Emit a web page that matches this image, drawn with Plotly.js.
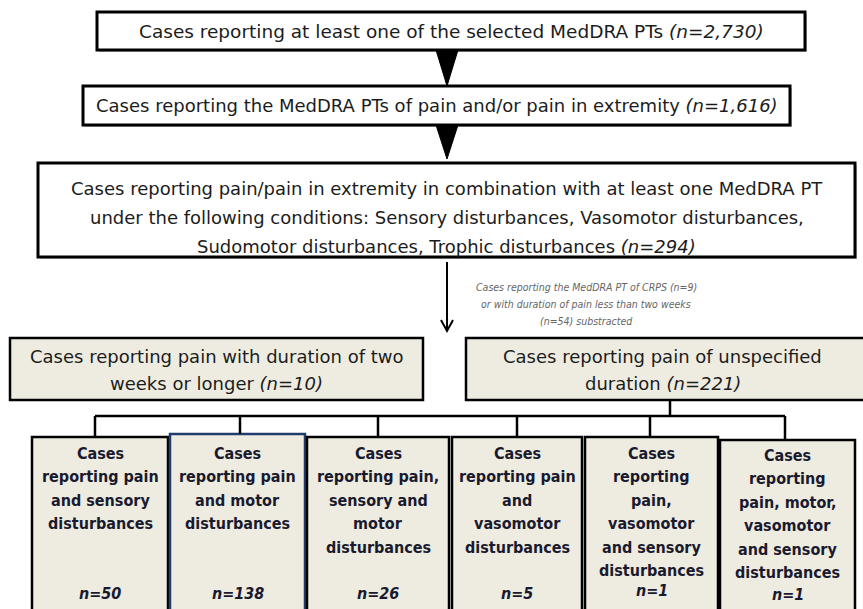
<!DOCTYPE html>
<html><head><meta charset="utf-8">
<script src="https://cdn.plot.ly/plotly-3.0.1.min.js"></script>
<style>html,body{margin:0;padding:0;background:#fff;overflow:hidden}</style>
</head><body><div id="chart" style="width:863px;height:609px"></div>
<script>
// ---------------- data ----------------
const stageLines = [
  ["Cases reporting at least one of the selected MedDRA PTs"],
  ["Cases reporting the MedDRA PTs of pain and/or pain in extremity"],
  ["Cases reporting pain/pain in extremity in combination with at least one MedDRA PT",
   "under the following conditions: Sensory disturbances, Vasomotor disturbances,",
   "Sudomotor disturbances, Trophic disturbances"]
];
const stageCounts = [2730, 1616, 294];
const excludedCrps = 9;
const excludedShortDuration = 54;
const durationLines = [
  ["Cases reporting pain with duration of two", "weeks or longer"],
  ["Cases reporting pain of unspecified", "duration"]
];
const durationCounts = [10, 221];
const subgroupLines = [
  ["Cases", "reporting pain", "and sensory", "disturbances"],
  ["Cases", "reporting pain", "and motor", "disturbances"],
  ["Cases", "reporting pain,", "sensory and", "motor", "disturbances"],
  ["Cases", "reporting pain", "and", "vasomotor", "disturbances"],
  ["Cases", "reporting", "pain,", "vasomotor", "and sensory", "disturbances"],
  ["Cases", "reporting", "pain, motor,", "vasomotor", "and sensory", "disturbances"]
];
const subgroupCounts = [50, 138, 26, 5, 1, 1];

// ---------------- layout geometry ----------------
const NARROW = "DejaVu Sans Condensed, sans-serif";
const WIDE = "DejaVu Sans, sans-serif";
const BEIGE = "#EEECE1";
const stageBoxes = [
  {x0: 97, x1: 805, y0: 12, y1: 50, lineY: [31], size: 18.5},
  {x0: 83, x1: 790, y0: 86, y1: 125, lineY: [105], size: 18},
  {x0: 38, x1: 855, y0: 163, y1: 257, lineY: [188, 217, 246], size: 18}
];
const durBoxes = [
  {x0: 10, x1: 423, y0: 338, y1: 400, lineY: [356, 383]},
  {x0: 466, x1: 866, y0: 338, y1: 400, lineY: [356, 383]}
];
const subBoxes = [
  {x0: 32, x1: 168, y0: 437, color: "#000", top: 453, nY: 593},
  {x0: 170, x1: 305, y0: 434, color: "#1F3D6E", top: 453, nY: 593},
  {x0: 307, x1: 449, y0: 437, color: "#000", top: 453, nY: 593},
  {x0: 452, x1: 582, y0: 437, color: "#000", top: 453, nY: 593},
  {x0: 585, x1: 718, y0: 437, color: "#000", top: 453, nY: 590},
  {x0: 720, x1: 855, y0: 440, color: "#000", top: 455, nY: 594}
];
const LINE_H = 23.5;

const fmt = n => n.toLocaleString("en-US");
const shapes = [];
const ann = [];

function rect(b, fill, color, w) {
  shapes.push({type: "rect", xref: "x", yref: "y", x0: b.x0, x1: b.x1, y0: b.y0, y1: b.y1,
    fillcolor: fill, line: {color: color, width: w}, layer: "below"});
}
function text(x, y, t, size, family, color) {
  ann.push({x: x, y: y, xref: "x", yref: "y", text: t, showarrow: false,
    xanchor: "center", yanchor: "middle",
    font: {family: family, size: size, color: color || "#1c1c1c"}});
}

// stage boxes
stageBoxes.forEach((b, i) => {
  shapes.push({type: "rect", x0: b.x0 + 2, x1: b.x1 + 2, y0: b.y0 + 2, y1: b.y1 + 2,
    fillcolor: "#C8C8C8", line: {width: 0}, layer: "below"});
  rect(b, "#FFFFFF", "#000", 3);
  const cx = (b.x0 + b.x1) / 2;
  stageLines[i].forEach((ln, j) => {
    let t = ln;
    if (j === stageLines[i].length - 1) t += " <i>(n=" + fmt(stageCounts[i]) + ")</i>";
    text(cx, b.lineY[j], t, b.size, WIDE);
  });
});

// filled triangles between stage boxes
[[50, 86], [125, 159]].forEach(([a, c]) => {
  shapes.push({type: "path", path: `M 436 ${a} L 458 ${a} L 447 ${c} Z`,
    fillcolor: "#000", line: {color: "#000", width: 1}});
});

// thin arrow
shapes.push({type: "line", x0: 447, x1: 447, y0: 262, y1: 330, line: {color: "#000", width: 2}});
shapes.push({type: "path", path: "M 441 320 L 447 331 L 453 320", line: {color: "#000", width: 2}});

// exclusion note
const noteLines = [
  "Cases reporting the MedDRA PT of CRPS (n=" + excludedCrps + ")",
  "or with duration of pain less than two weeks",
  "(n=" + excludedShortDuration + ") substracted"
];
noteLines.forEach((ln, j) => text(586, 287 + j * 17, "<i>" + ln + "</i>", 10.5, NARROW, "#666"));

// duration boxes
durBoxes.forEach((b, i) => {
  rect(b, BEIGE, "#000", 2.5);
  const cx = (b.x0 + Math.min(b.x1, 863)) / 2 + (i === 1 ? -2 : 0);
  durationLines[i].forEach((ln, j) => {
    let t = ln;
    if (j === durationLines[i].length - 1) t += " <i>(n=" + fmt(durationCounts[i]) + ")</i>";
    text(cx, b.lineY[j], t, 18, WIDE);
  });
});

// connectors
const hubY = 416;
const centers = [95, 240, 378, 517, 650, 785];
shapes.push({type: "line", x0: 670, x1: 670, y0: 400, y1: hubY, line: {color: "#000", width: 2.5}});
shapes.push({type: "line", x0: centers[0], x1: centers[centers.length - 1], y0: hubY, y1: hubY, line: {color: "#000", width: 2.5}});
centers.forEach((c, i) => shapes.push({type: "line", x0: c, x1: c, y0: hubY, y1: subBoxes[i].y0, line: {color: "#000", width: 2.5}}));

// subgroup boxes
subBoxes.forEach((b, i) => {
  rect({x0: b.x0, x1: b.x1, y0: b.y0, y1: 612}, BEIGE, b.color, 2.5);
  const cx = (b.x0 + b.x1) / 2;
  subgroupLines[i].forEach((ln, j) => text(cx, b.top + j * LINE_H, "<b>" + ln + "</b>", 16, NARROW, "#1A1A2E"));
  text(cx, b.nY, "<b><i>n=" + fmt(subgroupCounts[i]) + "</i></b>", 16, NARROW, "#1A1A2E");
});

const layout = {
  width: 863, height: 609,
  margin: {l: 0, r: 0, t: 0, b: 0, pad: 0},
  paper_bgcolor: "#FFFFFF", plot_bgcolor: "#FFFFFF",
  xaxis: {range: [0, 863], visible: false, fixedrange: true},
  yaxis: {range: [609, 0], visible: false, fixedrange: true},
  showlegend: false,
  shapes: shapes,
  annotations: ann
};
Plotly.newPlot("chart", [{x: [], y: [], type: "scatter", mode: "markers"}], layout, {displayModeBar: false, staticPlot: true});
</script></body></html>
